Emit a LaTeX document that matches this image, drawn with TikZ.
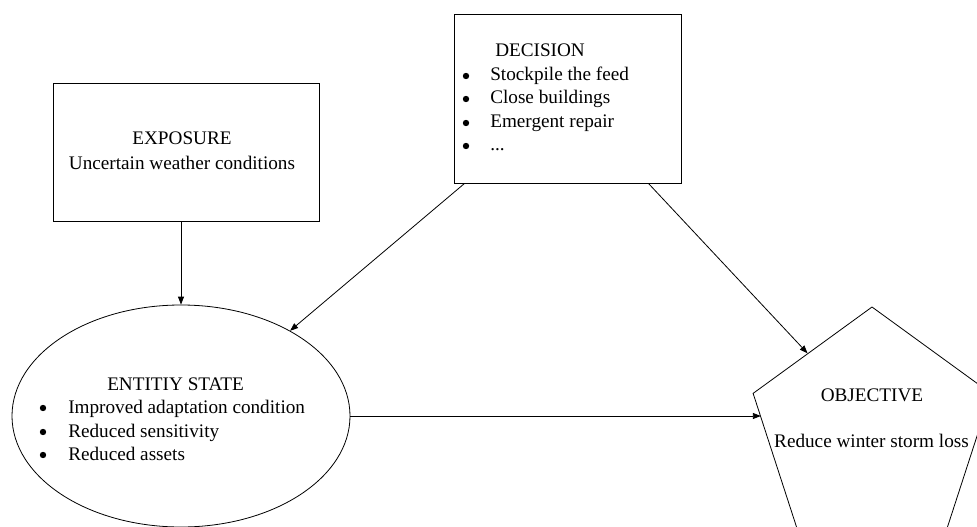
\documentclass[tikz,border=0pt]{standalone}
\usepackage{fontspec}
\setmainfont{Liberation Serif}
\usetikzlibrary{shapes.geometric,arrows.meta,calc}
\begin{document}
\begin{tikzpicture}[x=0.75pt,y=-0.75pt,
  every node/.style={font=\fontsize{14.4}{17.6}\selectfont},
  boxnode/.style={draw,line width=0.6pt,inner sep=0},
  txt/.style={anchor=base west,inner sep=0},
  ctxt/.style={anchor=base,inner sep=0},
  bul/.style={circle,fill,inner sep=0,minimum size=4.8pt},
  conn/.style={line width=0.6pt,-{Triangle[length=6pt,width=4.5pt]}}
]
\useasboundingbox (0,0) rectangle (977,527);
\clip (0,0) rectangle (977,527);

% EXPOSURE
\node[boxnode,minimum width=199.5pt,minimum height=103.5pt] (exp) at (186,152) {};
\node[ctxt] (expt) at (182,145) {EXPOSURE};
\node[ctxt] (expu) at (182,170) {Uncertain weather conditions};

% DECISION
\node[boxnode,minimum width=170.25pt,minimum height=126.75pt] (dec) at (567.5,98.5) {};
\node[txt] (dect) at (495,57) {DECISION};
\node[bul] (db1) at (466,76) {};
\node[txt] (dt1) at (490,81) {Stockpile the feed};
\node[bul] (db2) at (466,99) {};
\node[txt] (dt2) at (490,104) {Close buildings};
\node[bul] (db3) at (466,123) {};
\node[txt] (dt3) at (490,128) {Emergent repair};
\node[bul] (db4) at (466,146) {};
\node[txt] (dt4) at (490,151) {...};

% ENTITY STATE
\node[ellipse,draw,line width=0.6pt,minimum width=253.5pt,minimum height=166.5pt,inner sep=0] (ell) at (181,416) {};
\node[txt] (ellt) at (107,390) {ENTITIY STATE};
\node[bul] (eb1) at (43,408) {};
\node[txt] (et1) at (68,413) {Improved adaptation condition};
\node[bul] (eb2) at (43,432) {};
\node[txt] (et2) at (68,437) {Reduced sensitivity};
\node[bul] (eb3) at (43,455) {};
\node[txt] (et3) at (68,460) {Reduced assets};

% OBJECTIVE
\node[regular polygon,regular polygon sides=5,draw,line width=0.6pt,minimum size=187.5pt,inner sep=0] (obj) at (872,432) {};
\node[ctxt] (objt) at (872,401) {OBJECTIVE};
\node[ctxt] (objr) at (871.5,447) {Reduce winter storm loss};

\coordinate (objL) at ($(obj.corner 2)!0.18!(obj.corner 3)$);
\coordinate (objT) at ($(obj.corner 1)!0.54!(obj.corner 2)$);
\coordinate (decA) at ($(dec.south west)+(11,0)$);
\coordinate (decB) at ($(dec.south east)+(-33,0)$);

% connectors
\draw[conn] (exp.south -| ell.north) -- (ell.north);
\draw[conn] (decA) -- (ell.38.8);
\draw[conn] (decB) -- (objT);
\draw[conn] (ell.east) -- (ell.east -| objL);
\end{tikzpicture}
\end{document}
